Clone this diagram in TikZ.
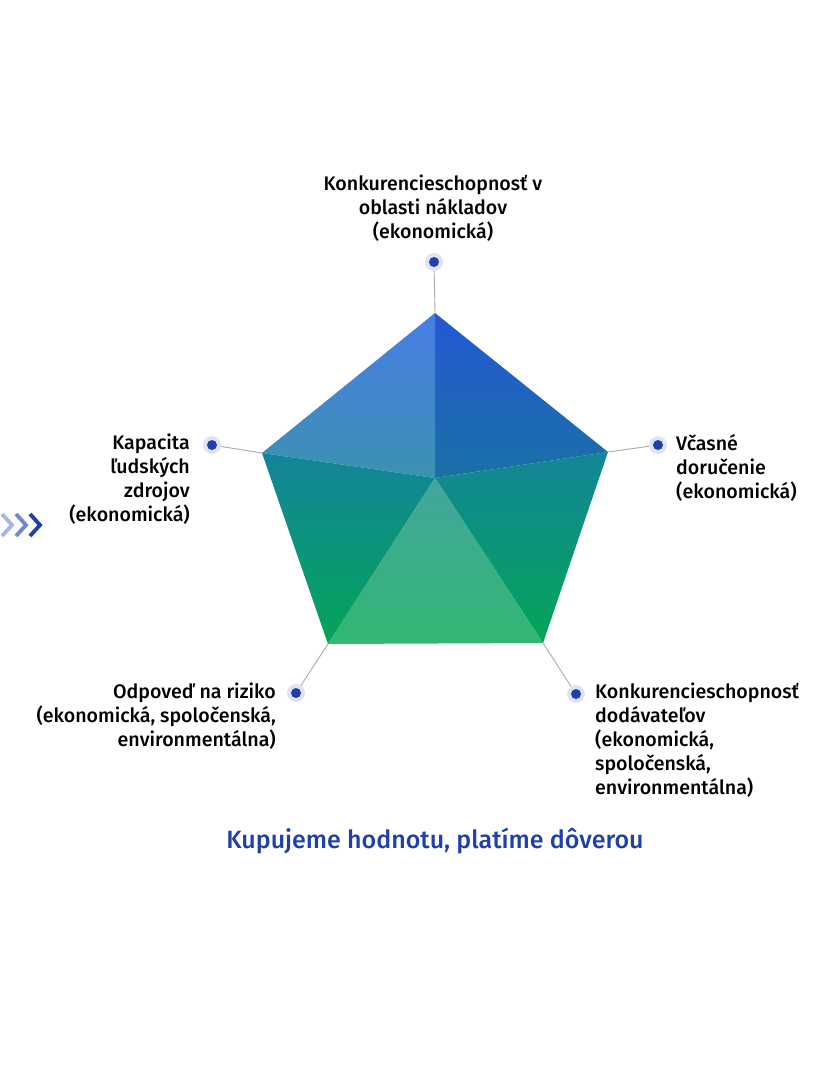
\documentclass[tikz,border=0pt]{standalone}
\usepackage{fontspec}
\setmainfont{Fira Sans}[UprightFont={* Medium}]
\definecolor{dotblue}{HTML}{1E3FAE}
\definecolor{halo}{HTML}{DFE3F3}
\definecolor{axisgray}{HTML}{AAAAAA}
\tikzset{
  lbl/.style={inner sep=0pt, font=\fontsize{19.6}{24}\selectfont},
  axis/.style={draw=axisgray, line width=0.9pt},
  chev/.style={line width=3.8pt, miter limit=10}
}
\begin{document}
\begin{tikzpicture}[x=1pt,y=-1pt]
  \useasboundingbox (0,0) rectangle (830,1065);

  \coordinate (c) at (435,478);
  \coordinate (t) at (435,313);
  \coordinate (r) at (608,452);
  \coordinate (br) at (543,643);
  \coordinate (bl) at (328,644);
  \coordinate (l) at (262,453);

  \coordinate (dt) at (434,262);
  \coordinate (dr) at (658,445);
  \coordinate (dbr) at (576,694);
  \coordinate (dbl) at (296,693);
  \coordinate (dl) at (212,445);

  \draw[axis] (t) -- (dt);
  \draw[axis] (r) -- (dr);
  \draw[axis] (br) -- (dbr);
  \draw[axis] (bl) -- (dbl);
  \draw[axis] (l) -- (dl);

  \shade[top color={rgb,255:red,35;green,88;blue,212}, bottom color={rgb,255:red,26;green,112;blue,165}] (c) -- (t) -- (r) -- cycle;
  \shade[top color={rgb,255:red,72;green,125;blue,230}, bottom color={rgb,255:red,59;green,146;blue,178}] (c) -- (l) -- (t) -- cycle;
  \shade[top color={rgb,255:red,19;green,132;blue,154}, bottom color={rgb,255:red,4;green,164;blue,87}] (c) -- (bl) -- (l) -- cycle;
  \shade[top color={rgb,255:red,19;green,133;blue,152}, bottom color={rgb,255:red,4;green,165;blue,86}] (c) -- (r) -- (br) -- cycle;
  \shade[top color={rgb,255:red,66;green,165;blue,158}, bottom color={rgb,255:red,49;green,183;blue,114}] (c) -- (br) -- (bl) -- cycle;

  \foreach \d in {dt,dr,dbr,dbl,dl} {
    \fill[halo] (\d) circle [radius=9];
    \fill[dotblue] (\d) circle [radius=5];
  }

  \node[lbl, align=center, anchor=south] (ltop) at (433,242) {Konkurencieschopnosť v\\oblasti nákladov\\(ekonomická)};
  \node[lbl, align=left, anchor=north west] (lright) at (676,434) {Včasné\\doručenie\\(ekonomická)};
  \node[lbl, align=left, anchor=north west] (lbr) at (595,683) {Konkurencieschopnosť\\dodávateľov\\(ekonomická,\\spoločenská,\\environmentálna)};
  \node[lbl, align=right, anchor=north east] (lbl) at (276,683) {Odpoveď na riziko\\(ekonomická, spoločenská,\\environmentálna)};
  \node[lbl, align=right, anchor=north east] (lleft) at (190,434) {Kapacita\\ľudských\\zdrojov\\(ekonomická)};

  \node[inner sep=0pt, font=\fontsize{25}{30}\selectfont, text=dotblue] (title) at (435,841) {Kupujeme hodnotu, platíme dôverou};

  \draw[chev, draw={rgb,255:red,169;green,181;blue,227}] (2,514) -- (12,525) -- (2,536);
  \draw[chev, draw={rgb,255:red,111;green,134;blue,214}] (16,514) -- (26,525) -- (16,536);
  \draw[chev, draw=dotblue] (30,514) -- (40,525) -- (30,536);
\end{tikzpicture}
\end{document}
